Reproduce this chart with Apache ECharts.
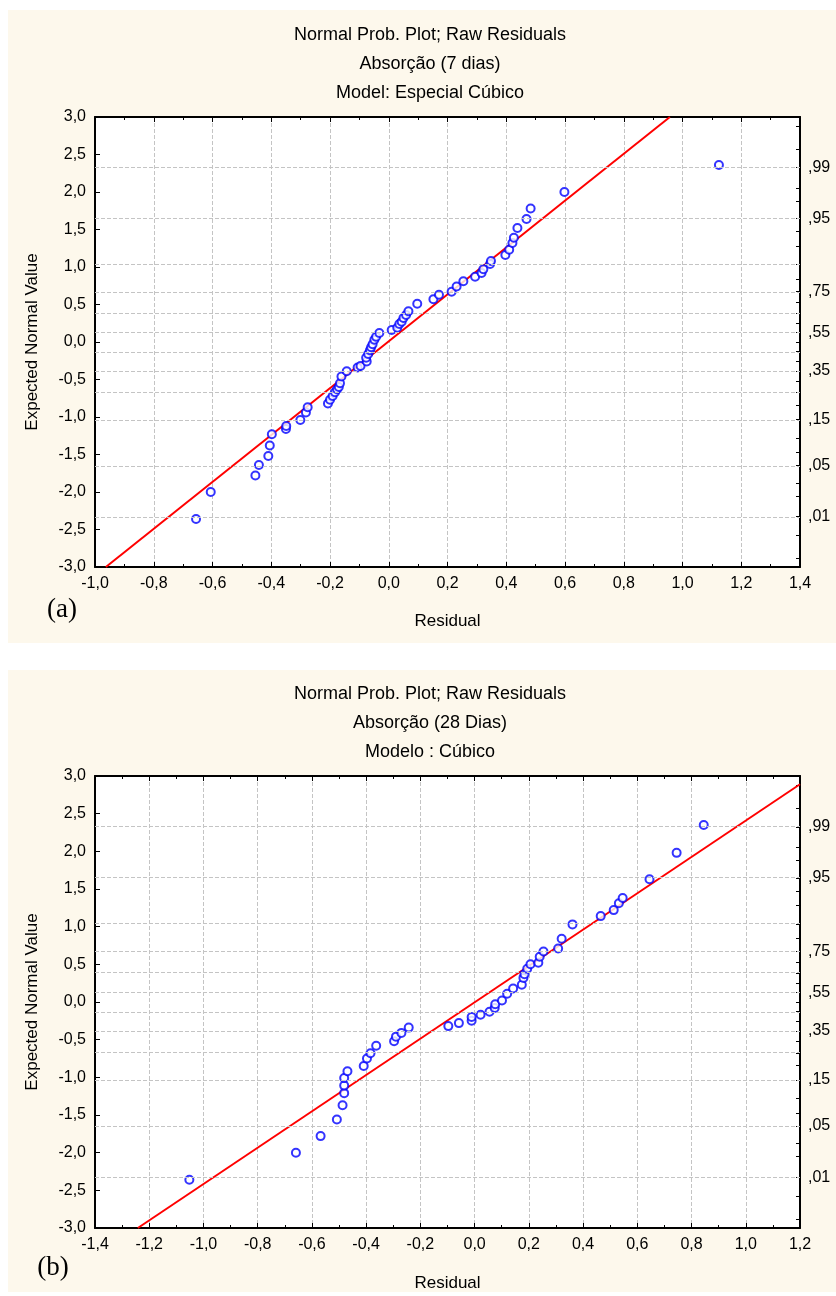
<!DOCTYPE html>
<html>
<head>
<meta charset="utf-8">
<script src="https://cdn.jsdelivr.net/npm/echarts@6/dist/echarts.min.js"></script>
<style>
  html, body { margin: 0; padding: 0; background: #fff; }
  #main { width: 836px; height: 1296px; }
</style>
</head>
<body>
<div id="main"></div>
<script>
// (a) Absorção 7 dias: residual / expected normal value
const residA = [-0.656, -0.606, -0.454, -0.442, -0.410, -0.405, -0.398, -0.350, -0.349, -0.301,
  -0.282, -0.276, -0.207, -0.200, -0.191, -0.183, -0.176, -0.170, -0.166, -0.161,
  -0.143, -0.106, -0.096, -0.075, -0.077, -0.070, -0.064, -0.060, -0.055, -0.049,
  -0.043, -0.032, 0.010, 0.029, 0.036, 0.044, 0.050, 0.059, 0.067, 0.097,
  0.152, 0.171, 0.214, 0.231, 0.254, 0.294, 0.316, 0.322, 0.345, 0.348,
  0.397, 0.410, 0.421, 0.426, 0.438, 0.469, 0.483, 0.598, 1.124]
const expA = [-2.36, -2.00, -1.78, -1.64, -1.52, -1.38, -1.23, -1.16, -1.12, -1.04,
  -0.94, -0.87, -0.82, -0.77, -0.72, -0.67, -0.63, -0.60, -0.55, -0.46,
  -0.39, -0.34, -0.32, -0.26, -0.21, -0.16, -0.11, -0.07, -0.03, 0.03,
  0.07, 0.12, 0.16, 0.19, 0.24, 0.27, 0.32, 0.36, 0.41, 0.51,
  0.57, 0.63, 0.67, 0.74, 0.81, 0.87, 0.92, 0.97, 1.04, 1.08,
  1.16, 1.23, 1.32, 1.39, 1.52, 1.64, 1.78, 2.00, 2.36]
const fitA = [[-0.963, -3.0], [0.957, 3.0]]

// (b) Absorção 28 dias
const residB = [-1.052, -0.659, -0.568, -0.508, -0.487, -0.481, -0.481, -0.481, -0.469, -0.409,
  -0.397, -0.384, -0.363, -0.297, -0.290, -0.270, -0.243, -0.097, -0.058, -0.011,
  -0.011, 0.022, 0.055, 0.074, 0.076, 0.101, 0.120, 0.142, 0.174, 0.180,
  0.184, 0.194, 0.206, 0.235, 0.240, 0.254, 0.308, 0.321, 0.361, 0.465,
  0.513, 0.532, 0.546, 0.645, 0.745, 0.845]
const expB = [-2.36, -2.00, -1.78, -1.56, -1.37, -1.21, -1.11, -1.01, -0.92, -0.85,
  -0.75, -0.68, -0.58, -0.52, -0.46, -0.41, -0.34, -0.32, -0.28, -0.25,
  -0.20, -0.17, -0.13, -0.08, -0.03, 0.02, 0.11, 0.18, 0.23, 0.32,
  0.37, 0.44, 0.50, 0.52, 0.60, 0.67, 0.71, 0.84, 1.03, 1.14,
  1.22, 1.31, 1.38, 1.63, 1.98, 2.35]
const fitB = [[-1.242, -3.0], [1.2, 2.89]]

// probability axis (right side), positions in normal-score units
const probLabels = [',99', ',95', ',75', ',55', ',35', ',15', ',05', ',01']
const probLabelZ = [2.326, 1.645, 0.674, 0.126, -0.385, -1.036, -1.645, -2.326]
const probGridZ = [2.326, 1.645, 1.036, 0.674, 0.385, 0.126, -0.126, -0.385, -0.674, -1.036, -1.645, -2.326]
const probTickZ = [-2.878, -2.576, -2.326, -2.054, -1.881, -1.645, -1.476, -1.282, -1.036, -0.842,
  -0.674, -0.524, -0.385, -0.253, -0.126, 0, 0.126, 0.253, 0.385, 0.524, 0.674, 0.842,
  1.036, 1.282, 1.476, 1.645, 1.881, 2.054, 2.326, 2.576, 2.878]

const titlesA = ['Normal Prob. Plot; Raw Residuals', 'Absorção (7 dias)', 'Model: Especial Cúbico']
const titlesB = ['Normal Prob. Plot; Raw Residuals', 'Absorção (28 Dias)', 'Modelo : Cúbico']

const font = 'Liberation Sans, Arial, sans-serif'
const comma = v => v.toFixed(1).replace('.', ',')

var myChart = echarts.init(document.getElementById('main'))

function xAxes(gridIndex, min, max, gap) {
    return [
        {
            gridIndex: gridIndex, type: 'value', min: min, max: max, interval: 0.2,
            name: 'Residual', nameLocation: 'middle', nameGap: gap,
            nameTextStyle: { fontFamily: font, fontSize: 17, color: '#000' },
            axisLine: { onZero: false, lineStyle: { color: '#000', width: 2 } },
            axisTick: { inside: true, length: 5, lineStyle: { color: '#000' } },
            minorTick: { show: true, splitNumber: 2, length: 3, lineStyle: { color: '#000' } },
            axisLabel: { formatter: comma, fontFamily: font, fontSize: 16, color: '#000', margin: 9 },
            splitLine: { show: true, lineStyle: { type: 'dashed', color: '#c4c4c4' } }
        },
        {
            gridIndex: gridIndex, type: 'value', min: min, max: max, interval: 0.2, position: 'top',
            axisLine: { onZero: false, lineStyle: { color: '#000', width: 2 } },
            axisTick: { inside: true, length: 5, lineStyle: { color: '#000' } },
            minorTick: { show: true, splitNumber: 2, length: 3, lineStyle: { color: '#000' } },
            axisLabel: { show: false },
            splitLine: { show: false }
        }
    ]
}

function yAxes(gridIndex) {
    return [
        {
            gridIndex: gridIndex, type: 'value', min: -3, max: 3, interval: 0.5,
            name: 'Expected Normal Value', nameLocation: 'middle', nameGap: 54,
            nameTextStyle: { fontFamily: font, fontSize: 17, color: '#000' },
            axisLine: { onZero: false, lineStyle: { color: '#000', width: 2 } },
            axisTick: { inside: true, length: 5, lineStyle: { color: '#000' } },
            axisLabel: { formatter: comma, fontFamily: font, fontSize: 16, color: '#000', margin: 9 },
            splitLine: { show: false }
        },
        {
            gridIndex: gridIndex, type: 'value', min: -3, max: 3, position: 'right',
            axisLine: { onZero: false, lineStyle: { color: '#000', width: 2 } },
            axisTick: { inside: true, length: 4, customValues: probTickZ, lineStyle: { color: '#000' } },
            axisLabel: {
                customValues: probLabelZ,
                formatter: v => probLabels[probLabelZ.indexOf(v)] || '',
                fontFamily: font, fontSize: 16, color: '#000', margin: 8
            },
            splitLine: { show: false }
        }
    ]
}

function seriesFor(idx, resid, exp, fit) {
    return [
        {
            type: 'line', xAxisIndex: idx * 2, yAxisIndex: idx * 2, data: [], silent: true,
            markLine: {
                symbol: 'none', silent: true, label: { show: false },
                lineStyle: { type: 'dashed', color: '#c4c4c4', width: 1 },
                data: probGridZ.map(z => ({ yAxis: z }))
            },
            z: 1
        },
        {
            type: 'line', xAxisIndex: idx * 2, yAxisIndex: idx * 2, data: fit,
            symbol: 'none', lineStyle: { color: '#ff0000', width: 2 }, clip: true, z: 2
        },
        {
            type: 'scatter', xAxisIndex: idx * 2, yAxisIndex: idx * 2,
            data: resid.map((r, i) => [r, exp[i]]),
            symbol: 'emptyCircle', symbolSize: 8,
            itemStyle: { color: '#0000ff', borderColor: '#0000ff', borderWidth: 1 }, z: 3
        }
    ]
}

function titleText(lines, top) {
    return lines.map((t, i) => ({
        type: 'text', x: 430, y: top + i * 29,
        style: { text: t, fontFamily: font, fontSize: 18, fill: '#000', textAlign: 'center', textVerticalAlign: 'middle' }
    }))
}

let option = {
    backgroundColor: '#fff',
    animation: false,
    graphic: [
        { type: 'rect', shape: { x: 8, y: 10, width: 828, height: 633 }, style: { fill: '#fdf8ec' }, z: -10 },
        { type: 'rect', shape: { x: 8, y: 670, width: 828, height: 622 }, style: { fill: '#fdf8ec' }, z: -10 },
        ...titleText(titlesA, 35),
        ...titleText(titlesB, 694),
        { type: 'text', x: 62, y: 610, style: { text: '(a)', fontFamily: 'Liberation Serif, Times New Roman, serif', fontSize: 27, fill: '#000', textAlign: 'center', textVerticalAlign: 'middle' } },
        { type: 'text', x: 53, y: 1268, style: { text: '(b)', fontFamily: 'Liberation Serif, Times New Roman, serif', fontSize: 27, fill: '#000', textAlign: 'center', textVerticalAlign: 'middle' } }
    ],
    grid: [
        { left: 95, top: 117, width: 705, height: 450, show: true, backgroundColor: '#fff', borderColor: '#000', borderWidth: 1 },
        { left: 95, top: 776, width: 705, height: 452, show: true, backgroundColor: '#fff', borderColor: '#000', borderWidth: 1 }
    ],
    xAxis: [...xAxes(0, -1.0, 1.4, 46), ...xAxes(1, -1.4, 1.2, 47)],
    yAxis: [...yAxes(0), ...yAxes(1)],
    series: [...seriesFor(0, residA, expA, fitA), ...seriesFor(1, residB, expB, fitB)]
}
myChart.setOption(option)
</script>
</body>
</html>
